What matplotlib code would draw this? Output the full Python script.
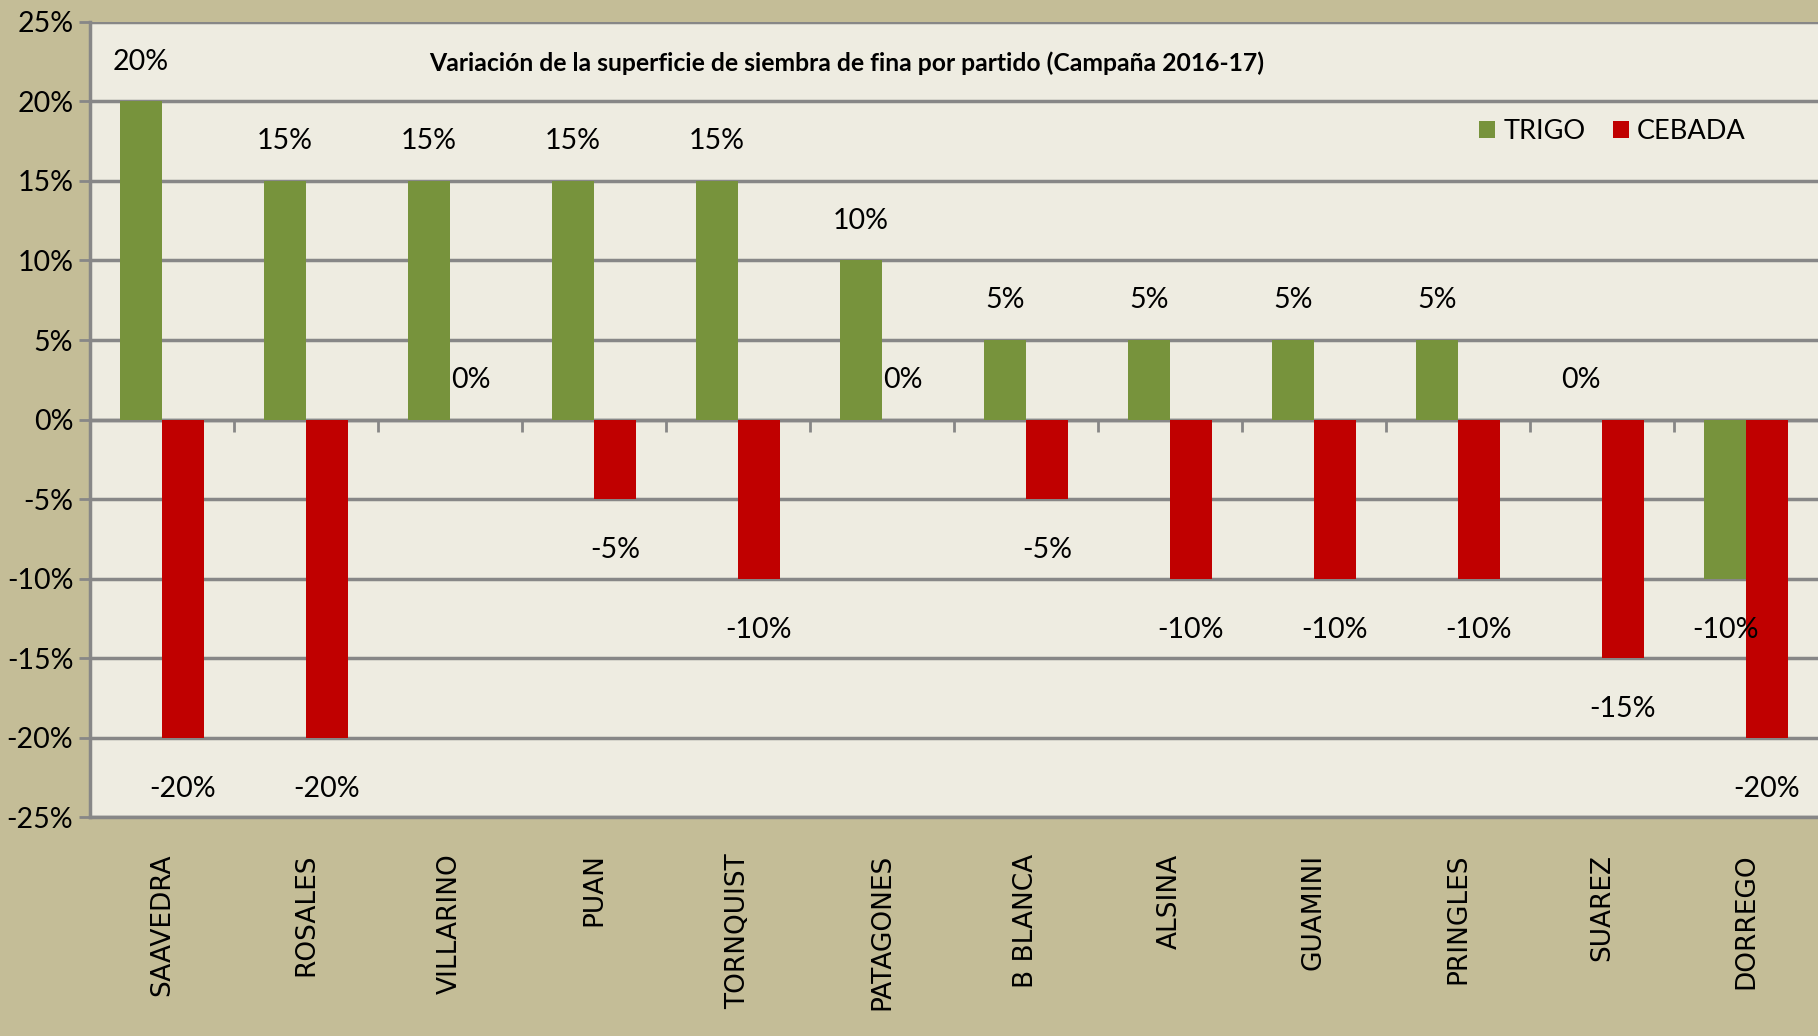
import matplotlib.pyplot as plt
import numpy as np

partidos = ['SAAVEDRA', 'ROSALES', 'VILLARINO', 'PUAN', 'TORNQUIST', 'PATAGONES',
            'B BLANCA', 'ALSINA', 'GUAMINI', 'PRINGLES', 'SUAREZ', 'DORREGO']
trigo = [20, 15, 15, 15, 15, 10, 5, 5, 5, 5, 0, -10]
cebada = [-20, -20, 0, -5, -10, 0, -5, -10, -10, -10, -15, -20]
yticks = [-25, -20, -15, -10, -5, 0, 5, 10, 15, 20, 25]

plt.rcParams['font.family'] = ['Lato', 'DejaVu Sans']

fig = plt.figure(figsize=(18.18, 10.36), dpi=100, facecolor='#C4BD97')
ax = fig.add_axes([0.0495, 0.211, 0.9505, 0.768])
ax.set_facecolor('#EEECE1')

x = np.arange(len(partidos))
w = 0.29
ax.bar(x - w/2, trigo, w, color='#77933C', label='TRIGO', zorder=3)
ax.bar(x + w/2, cebada, w, color='#C00000', label='CEBADA', zorder=3)

# data labels
for xs, vals in ((x - w/2, trigo), (x + w/2, cebada)):
    for xi, v in zip(xs, vals):
        yy = v + 2.5 if v >= 0 else v - 3.2
        ax.text(xi, yy, '%d%%' % v, ha='center', va='center', fontsize=20.5, zorder=4)

ax.set_xlim(-0.5, len(partidos) - 0.5)
ax.set_ylim(-25, 25)
ax.set_yticks(yticks)
ax.set_yticklabels(['%d%%' % t for t in yticks], fontsize=20.5)
ax.yaxis.grid(True, color='#878787', linewidth=2.5, zorder=1)
ax.tick_params(axis='y', length=8, width=2, color='#878787', pad=4)

ax.set_xticks(x)
ax.set_xticklabels(partidos, rotation=90, fontsize=19, family='DejaVu Sans')
ax.tick_params(axis='x', length=0, pad=26)

# axis line at zero with category separators
ax.axhline(0, color='#878787', linewidth=2.5, zorder=2)
ax.vlines(x[:-1] + 0.5, -0.8, 0, color='#878787', linewidth=2, zorder=2)

for s in ['top', 'right']:
    ax.spines[s].set_visible(False)
for s in ['left', 'bottom']:
    ax.spines[s].set_color('#878787')
    ax.spines[s].set_linewidth(2.5)

fig.text(0.4656, 0.939, 'Variación de la superficie de siembra de fina por partido (Campaña 2016-17)',
         ha='center', va='center', fontsize=17.8, fontweight='bold')

ax.legend(loc='center', bbox_to_anchor=(0.887, 0.873), bbox_transform=fig.transFigure,
          ncol=2, frameon=False, fontsize=19.5, handlelength=0.6, handleheight=0.6,
          handletextpad=0.3, columnspacing=1.0)

plt.savefig('out.png', dpi=100, facecolor=fig.get_facecolor())
